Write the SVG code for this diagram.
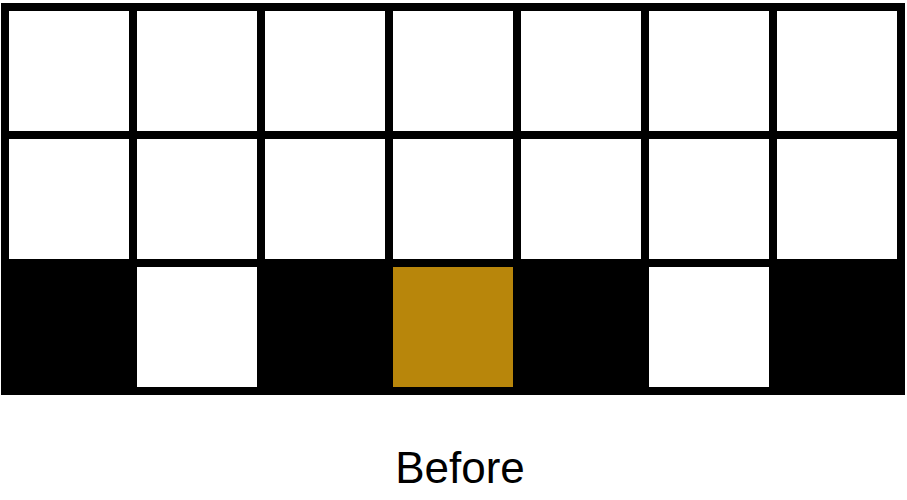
<svg xmlns="http://www.w3.org/2000/svg" width="907" height="500" viewBox="0 0 907 500">
<style>
.c{fill:#fff;stroke:#000;stroke-width:8}
.b{fill:#000;stroke:#000;stroke-width:8}
.g{fill:#B8860B;stroke:#000;stroke-width:8}
.t{font-family:"Liberation Sans",Arial,sans-serif;font-size:44px;fill:#000}
</style>
<rect width="907" height="500" fill="#fff"/>
<g id="row1">
<rect class="c" x="5" y="7" width="128" height="128"/>
<rect class="c" x="133" y="7" width="128" height="128"/>
<rect class="c" x="261" y="7" width="128" height="128"/>
<rect class="c" x="389" y="7" width="128" height="128"/>
<rect class="c" x="517" y="7" width="128" height="128"/>
<rect class="c" x="645" y="7" width="128" height="128"/>
<rect class="c" x="773" y="7" width="128" height="128"/>
</g>
<g id="row2">
<rect class="c" x="5" y="135" width="128" height="128"/>
<rect class="c" x="133" y="135" width="128" height="128"/>
<rect class="c" x="261" y="135" width="128" height="128"/>
<rect class="c" x="389" y="135" width="128" height="128"/>
<rect class="c" x="517" y="135" width="128" height="128"/>
<rect class="c" x="645" y="135" width="128" height="128"/>
<rect class="c" x="773" y="135" width="128" height="128"/>
</g>
<g id="row3">
<rect class="b" x="5" y="263" width="128" height="128"/>
<rect class="c" x="133" y="263" width="128" height="128"/>
<rect class="b" x="261" y="263" width="128" height="128"/>
<rect class="g" x="389" y="263" width="128" height="128"/>
<rect class="b" x="517" y="263" width="128" height="128"/>
<rect class="c" x="645" y="263" width="128" height="128"/>
<rect class="b" x="773" y="263" width="128" height="128"/>
</g>
<text class="t" x="460" y="483" text-anchor="middle">Before</text>
</svg>
